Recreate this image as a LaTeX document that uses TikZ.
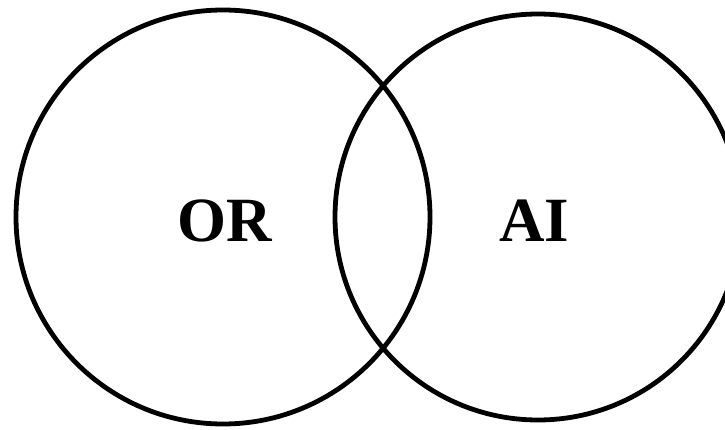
\documentclass[tikz,border=0pt]{standalone}
\usepackage{fontspec}
\setmainfont{Liberation Serif}
\usepackage{tikz}
\usetikzlibrary{positioning}
\definecolor{vnink}{HTML}{000000}
\tikzstyle{vnset}=[circle,draw=vnink,line width=4.8pt,inner sep=0pt]
\tikzstyle{vnlabel}=[text=vnink,font=\fontsize{63}{66}\selectfont\bfseries,inner sep=0pt]

\begin{document}
\begin{tikzpicture}[x=1pt,y=1pt]
    \useasboundingbox (0,0) rectangle (725,429);
    \node[vnset,minimum size=414pt] (or) at (223,212) {};
    \node[vnset,minimum size=406pt] (ai) at (538,212) {};
    \node[vnlabel] (orlabel) at (225,208) {OR};
    \node[vnlabel] (ailabel) at (534,208) {AI};
  \end{tikzpicture}
\end{document}
